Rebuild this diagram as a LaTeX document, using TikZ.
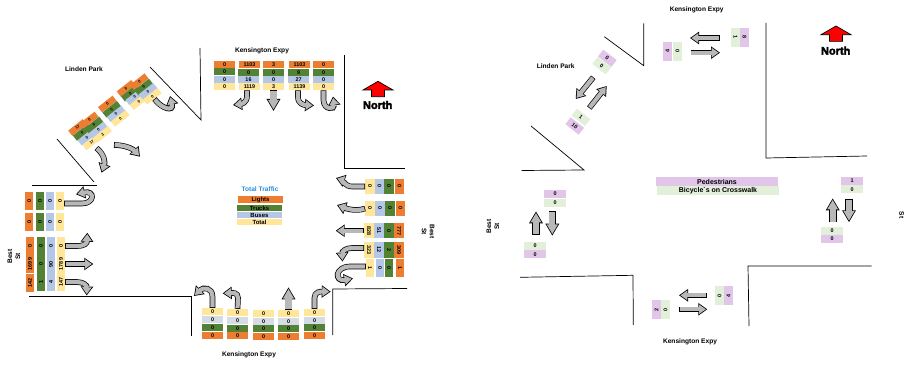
\documentclass[tikz,border=0pt]{standalone}
\usepackage{fontspec}
\usetikzlibrary{arrows.meta}
\newfontfamily\labelfont{Liberation Sans}
\newfontfamily\heavyfont[FakeBold=3]{Liberation Sans Bold}
\definecolor{lightsfill}{HTML}{ED7D31}
\definecolor{trucksfill}{HTML}{548235}
\definecolor{busesfill}{HTML}{B4C7E7}
\definecolor{busespale}{HTML}{D6DCE5}
\definecolor{totalfill}{HTML}{FFE699}
\definecolor{pedsfill}{HTML}{E2C6EA}
\definecolor{bikesfill}{HTML}{E2F0D9}
\definecolor{arrowgrey}{HTML}{B8B8B8}
\definecolor{titleblue}{HTML}{2E8BD6}
\tikzset{
    cell/.style={inner sep=0pt,minimum width=21,minimum height=7,font=\labelfont\bfseries\fontsize{5.4}{6}\selectfont},
    lights/.style={cell,fill=lightsfill},
    trucks/.style={cell,fill=trucksfill},
    buses/.style={cell,fill=busesfill},
    buspale/.style={cell,fill=busespale},
    total/.style={cell,fill=totalfill},
    peds/.style={cell,fill=pedsfill,minimum width=22,minimum height=8},
    bikes/.style={cell,fill=bikesfill,minimum width=22,minimum height=8},
    upright/.style={rotate=90,minimum width=18,minimum height=8},
    downright/.style={rotate=-90,minimum width=15,minimum height=9.5},
    pairup/.style={rotate=90,minimum width=19,minimum height=9},
    pairdown/.style={rotate=-90,minimum width=19,minimum height=9},
    park/.style={rotate=38,minimum width=18.5,minimum height=6.6,font=\labelfont\bfseries\fontsize{4}{5}\selectfont},
    parkpair/.style={rotate=-38,minimum width=17,minimum height=8.7},
    road/.style={font=\labelfont\bfseries\fontsize{6.6}{8}\selectfont,inner sep=0pt,align=center},
    keyfont/.style={font=\labelfont\bfseries\fontsize{6}{7}\selectfont},
    northfont/.style={font=\heavyfont\fontsize{11}{12}\selectfont},
    wall/.style={line width=0.7pt},
    arrowline/.style={line width=5.6pt,-{Triangle[length=9pt,width=12pt]}},
    arrowfill/.style={line width=4.2pt,arrowgrey,shorten >=1.4pt,shorten <=0.7pt,-{Triangle[length=6.9pt,width=9.2pt]}},
    wideline/.style={line width=7.6pt,-{Triangle[length=12pt,width=13pt]}},
    widefill/.style={line width=6.2pt,arrowgrey,shorten >=1.6pt,shorten <=0.7pt,-{Triangle[length=9.6pt,width=10.4pt]}},
    northshape/.style={draw=black,fill=red,line width=0.7pt}
}
\newcommand{\flowarrow}[1]{\draw[arrowline]#1;\draw[arrowfill]#1;}
\newcommand{\widearrow}[1]{\draw[wideline]#1;\draw[widefill]#1;}
\newcommand{\northmark}[1]{\draw[northshape,shift={(#1)}] (0,0) -- (15,8.7) -- (6.5,8.7) -- (6.5,15.4) -- (-6.5,15.4) -- (-6.5,8.7) -- (-15,8.7) -- cycle;}
\begin{document}
\begin{tikzpicture}[x=1pt,y=-1pt]
    \useasboundingbox (0,0) rectangle (905,366);

    % left panel, walls
    \draw [wall] (344,55) -- (344,168) -- (405,168);
    \draw [wall] (200,48) -- (201,120) -- (150,67);
    \draw [wall] (57,139) -- (94,182);
    \draw [wall] (32,185.7) -- (97,185.7);
    \draw [wall] (29,296) -- (191,296) -- (191,336);
    \draw [wall] (332.7,335) -- (332.7,289) -- (407,288.5);

    % left panel, north leg
    \node [road](kn)at(262,50.7){Kensington Expy};
    \node [lights](nl1)at(224.5,64.5){0};
    \node [trucks](nt1)at(224.5,72){0};
    \node [buses](nb1)at(224.5,79.5){0};
    \node [total](ns1)at(224.5,86.5){0};
    \node [lights](nl2)at(249.5,64.5){1103};
    \node [trucks](nt2)at(248.5,72.5){0};
    \node [buses](nb2)at(248.5,79.8){16};
    \node [total](ns2)at(249.5,86.7){1119};
    \node [lights](nl3)at(273.5,64.5){3};
    \node [trucks](nt3)at(273.5,72.5){0};
    \node [buses](nb3)at(273.5,79.8){0};
    \node [total](ns3)at(273.5,86.7){3};
    \node [lights](nl4)at(299.5,64.5){1103};
    \node [trucks](nt4)at(298.5,72.5){9};
    \node [buses](nb4)at(298.5,79.8){27};
    \node [total](ns4)at(299.5,86.7){1139};
    \node [lights](nl5)at(323.5,64.5){0};
    \node [trucks](nt5)at(323.5,72.5){0};
    \node [buses](nb5)at(323.5,79.8){0};
    \node [total](ns5)at(323.5,86.7){0};

    \coordinate (na1)at(233,105);
    \coordinate (na2)at(273.5,111);
    \coordinate (na3)at(314,105.5);
    \coordinate (na4)at(333,96.5);
    \flowarrow{([xshift=-2.5]ns2.south) -- (247,96) .. controls (247,103) and (241,104) .. (na1)}
    \widearrow{(ns3.south) -- (na2)}
    \flowarrow{([xshift=-1.5]ns4.south) -- (298,97) .. controls (298,104) and (304,105) .. (na3)}
    \flowarrow{(ns5.south) -- (323.5,100) .. controls (323.5,110) and (335,110) .. (na4)}

    % left panel, north arrow and key
    \northmark{378,81.3}
    \node [road,northfont](nm1)at(377.7,105){North};
    \node [road,text=titleblue](key)at(260,189){Total Traffic};
    \node [lights,keyfont,minimum width=45](keyl)at(260.5,199.5){Lights};
    \node [trucks,keyfont,minimum width=45,minimum height=6](keyt)at(259.5,208){Trucks};
    \node [buses,keyfont,minimum width=45,minimum height=6.3](keyb)at(259.5,215.2){Buses};
    \node [total,keyfont,minimum width=45,minimum height=6](keys)at(259.5,222){Total};

    % left panel, west leg
    \node [road,rotate=90](bw)at(14,256.5){Best\\St};
    \node [lights,upright](wl1)at(29.2,201){0};
    \node [trucks,upright](wt1)at(40,201){0};
    \node [buses,upright](wb1)at(50,201){0};
    \node [total,upright](ws1)at(60,201){0};
    \node [lights,upright](wl2)at(29.2,222){0};
    \node [trucks,upright](wt2)at(40,222){0};
    \node [buses,upright](wb2)at(50,222){0};
    \node [total,upright](ws2)at(60,222){0};
    \node [lights,upright](wl3)at(30,246){0};
    \node [trucks,upright](wt3)at(41,246){0};
    \node [buses,upright](wb3)at(51,246){0};
    \node [total,upright](ws3)at(61,246){0};
    \node [lights,upright](wl4)at(30,264){1699};
    \node [trucks,upright](wt4)at(41,264){0};
    \node [buses,upright](wb4)at(51,264){90};
    \node [total,upright](ws4)at(61,264){1789};
    \node [lights,upright](wl5)at(30,282.5){142};
    \node [trucks,upright](wt5)at(41,282){1};
    \node [buses,upright](wb5)at(51,282){4};
    \node [total,upright](ws5)at(61,282){147};

    \coordinate (wa1)at(76,194.3);
    \coordinate (wa2)at(87.3,232.7);
    \coordinate (wa3)at(93.3,264);
    \coordinate (wa4)at(86.7,295.5);
    \flowarrow{([yshift=-2.5]ws1.south) -- (82,203.5) .. controls (95,203.5) and (95,190) .. (wa1)}
    \flowarrow{(ws3.south) -- (77,246) .. controls (85,246) and (87,243) .. (wa2)}
    \flowarrow{(ws4.south) -- (wa3)}
    \flowarrow{(ws5.south) -- (77,282) .. controls (84,282) and (87,286) .. (wa4)}

    % left panel, south leg
    \node [road](ks)at(249,354.7){Kensington Expy};
    \node [total](ss1)at(212.5,311.5){0};
    \node [buspale](sb1)at(212.5,319.5){0};
    \node [trucks](st1)at(212.5,327.5){0};
    \node [lights](sl1)at(212.5,335.5){0};
    \node [total](ss2)at(237.5,312.5){0};
    \node [buspale](sb2)at(237.5,320.5){0};
    \node [trucks](st2)at(237.5,328.5){0};
    \node [lights](sl2)at(237.5,335.5){0};
    \node [total](ss3)at(263.5,313.5){0};
    \node [buspale](sb3)at(263.5,321.5){0};
    \node [trucks](st3)at(263.5,328.5){0};
    \node [lights](sl3)at(263.5,336.5){0};
    \node [total](ss4)at(288.5,313.5){0};
    \node [buspale](sb4)at(288.5,321.5){0};
    \node [trucks](st4)at(288.5,328.5){0};
    \node [lights](sl4)at(288.5,336.5){0};
    \node [total](ss5)at(314.5,312.5){0};
    \node [buspale](sb5)at(314.5,320.5){0};
    \node [trucks](st5)at(314.5,327.5){0};
    \node [lights](sl5)at(314.5,335.5){0};

    \coordinate (sa1)at(194,296);
    \coordinate (sa2)at(222.7,293.3);
    \coordinate (sa3)at(288.5,287.3);
    \coordinate (sa4)at(330.7,291.7);
    \flowarrow{(ss1.north) -- (212.5,297) .. controls (212.5,287) and (203,287) .. (sa1)}
    \flowarrow{(ss2.north) -- (238,298) .. controls (238,292) and (232,293) .. (sa2)}
    \widearrow{(ss4.north) -- (sa3)}
    \flowarrow{(ss5.north) -- (314.5,298) .. controls (314.5,292) and (320,291.5) .. (sa4)}

    % left panel, east leg
    \node [road,rotate=-90](be)at(428,231.5){Best\\St};
    \node [total,downright](es1)at(370,186.5){0};
    \node [buses,downright](eb1)at(379.5,186.5){0};
    \node [trucks,downright](et1)at(389,186.5){0};
    \node [lights,downright](el1)at(399.5,186.5){0};
    \node [total,downright](es2)at(370,208.5){0};
    \node [buses,downright](eb2)at(380,208.5){0};
    \node [trucks,downright](et2)at(390,208.5){0};
    \node [lights,downright](el2)at(400.5,208.5){0};
    \node [total,downright](es3)at(369,230.7){828};
    \node [buses,downright](eb3)at(379,230.7){51};
    \node [trucks,downright](et3)at(389,230.7){0};
    \node [lights,downright](el3)at(399,230.7){777};
    \node [total,downright](es4)at(369,250){323};
    \node [buses,downright](eb4)at(379,250){12};
    \node [trucks,downright](et4)at(389,250){2};
    \node [lights,downright](el4)at(399,250){309};
    \node [total,downright,minimum width=18,minimum height=8](es5)at(370,268){1};
    \node [buses,downright,minimum width=18,minimum height=8](eb5)at(380,268){0};
    \node [trucks,downright,minimum width=18,minimum height=8](et5)at(389,268){0};
    \node [lights,downright,minimum width=18,minimum height=8](el5)at(400,268){1};

    \coordinate (ea1)at(336,178);
    \coordinate (ea2)at(337,205);
    \coordinate (ea3)at(335.7,230.7);
    \coordinate (ea4)at(342.5,261.5);
    \coordinate (ea5)at(353,278.5);
    \flowarrow{(es1.south) -- (352,186.5) .. controls (345,186.5) and (342,180) .. (ea1)}
    \flowarrow{(es2.south) .. controls (355,212) and (345,208) .. (ea2)}
    \flowarrow{(es3.south) -- (ea3)}
    \flowarrow{([yshift=2pt]es4.south) -- (352,248) .. controls (345,248) and (342,252) .. (ea4)}
    \flowarrow{([yshift=1.5pt]es5.south) -- (350,266.5) .. controls (335,266.5) and (334,282) .. (ea5)}

    % left panel, park leg
    \node [road](lp)at(84,68.7){Linden Park};
    \node [lights,park](pl1)at(77.5,127.5){17};
    \node [trucks,park](pt1)at(82.2,132.5){0};
    \node [buses,park](pb1)at(87,137.3){0};
    \node [total,park](ps1)at(91.8,142){17};
    \node [lights,park](pl2)at(89.3,120){0};
    \node [trucks,park](pt2)at(94,125){0};
    \node [buses,park](pb2)at(98.3,130){0};
    \node [total,park](ps2)at(102.7,134.3){3};
    \node [lights,park](pl3)at(107.3,104){0};
    \node [trucks,park](pt3)at(111.7,109.3){0};
    \node [buses,park](pb3)at(116,114){0};
    \node [total,park](ps3)at(120.3,118.3){0};
    \node [lights,park](pl4)at(126,88.3){0};
    \node [trucks,park](pt4)at(130.3,93.3){0};
    \node [buses,park](pb4)at(134.7,97){0};
    \node [total,park](ps4)at(139,101.7){0};
    \node [lights,park](pl5)at(139.3,81.7){0};
    \node [trucks,park](pt5)at(143.7,87){0};
    \node [buses,park](pb5)at(148,91.3){0};
    \node [total,park](ps5)at(152.3,96.3){0};

    \coordinate (pa1)at(170,96);
    \coordinate (pb)at(96.5,148);
    \coordinate (pa2)at(101.5,172.7);
    \coordinate (pc)at(114,145);
    \coordinate (pa3)at(140,156.7);
    \flowarrow{(ps5.south) .. controls (162,109) and (174,112) .. (pa1)}
    \flowarrow{(pb) .. controls (105,155) and (105,163) .. (pa2)}
    \flowarrow{(pc) .. controls (125,145) and (133,149) .. (pa3)}

    % right panel, walls
    \draw [wall] (643.7,23.3) -- (643.7,65.7) -- (604.3,36.7);
    \draw [wall] (766,23) -- (766,158) -- (867,156);
    \draw [wall] (531,126) -- (584,170) -- (521.7,170.5);
    \draw [wall] (520,277.3) -- (633,275.3) -- (633.3,325);
    \draw [wall] (749,326) -- (748,266) -- (871.7,266);

    % right panel, key and north arrow
    \node [road](kn2)at(696.7,9.7){Kensington Expy};
    \node [road](ks2)at(690,341.7){Kensington Expy};
    \node [road](lp2)at(555.7,65.7){Linden Park};
    \node [road,rotate=90](bw2)at(493,226.5){Best\\St};
    \node [road,rotate=-90](be2)at(901.7,215){St};
    \northmark{836,26}
    \node [road,northfont](nm2)at(835.7,50.7){North};
    \node [peds,minimum width=122,minimum height=9,font=\labelfont\bfseries\fontsize{7}{8}\selectfont](keyp)at(717,181.5){Pedestrians};
    \node [bikes,minimum width=122,minimum height=9,font=\labelfont\bfseries\fontsize{7}{8}\selectfont](keyc)at(718,190.5){Bicycle`s on Crosswalk};

    % right panel, crossing counts
    \node [bikes,pairdown](cn1)at(735.5,37.5){1};
    \node [peds,pairdown](cn2)at(744.5,37.5){8};
    \node [peds,pairup](cn3)at(667.5,51.5){4};
    \node [bikes,pairup](cn4)at(677.5,51.5){0};
    \node [peds,pairup](cs1)at(656.5,309.5){2};
    \node [bikes,pairup](cs2)at(665.5,309.5){0};
    \node [bikes,pairup](cs3)at(719.5,295.5){0};
    \node [peds,pairup](cs4)at(728.5,295.5){4};
    \node [peds,parkpair](cp1)at(607.3,58.3){0};
    \node [bikes,parkpair](cp2)at(601.7,65.7){0};
    \node [bikes,parkpair](cp3)at(581,117.3){1};
    \node [peds,parkpair](cp4)at(574.7,126){10};
    \node [peds](cw1)at(555,194){0};
    \node [bikes](cw2)at(555,203){0};
    \node [bikes](cw3)at(535,246){0};
    \node [peds](cw4)at(535,254.3){0};
    \node [peds](ce1)at(852,181){1};
    \node [bikes](ce2)at(852,189.5){0};
    \node [bikes](ce3)at(832,230.7){0};
    \node [peds](ce4)at(832,239){0};

    \coordinate (rn1)at(720,38);
    \coordinate (rn2)at(690,38);
    \coordinate (rn3)at(690.7,52.7);
    \coordinate (rn4)at(720,52.7);
    \coordinate (rs1)at(706.7,295.3);
    \coordinate (rs2)at(679,295.3);
    \coordinate (rs3)at(679.3,309.3);
    \coordinate (rs4)at(707.3,309.3);
    \coordinate (rp1)at(593.3,77.3);
    \coordinate (rp2)at(575.7,99);
    \coordinate (rp3)at(589.3,108);
    \coordinate (rp4)at(606.7,86);
    \coordinate (rw1)at(536,235);
    \coordinate (rw2)at(536,211.3);
    \coordinate (rw3)at(552.3,211.3);
    \coordinate (rw4)at(552.3,235.7);
    \coordinate (re1)at(832.7,222.3);
    \coordinate (re2)at(832.7,198.3);
    \coordinate (re3)at(849,199);
    \coordinate (re4)at(849,222.3);
    \flowarrow{(rn1) -- (rn2)}
    \flowarrow{(rn3) -- (rn4)}
    \flowarrow{(rs1) -- (rs2)}
    \flowarrow{(rs3) -- (rs4)}
    \flowarrow{(rp1) -- (rp2)}
    \flowarrow{(rp3) -- (rp4)}
    \widearrow{(rw1) -- (rw2)}
    \widearrow{(rw3) -- (rw4)}
    \widearrow{(re1) -- (re2)}
    \widearrow{(re3) -- (re4)}
\end{tikzpicture}
\end{document}
